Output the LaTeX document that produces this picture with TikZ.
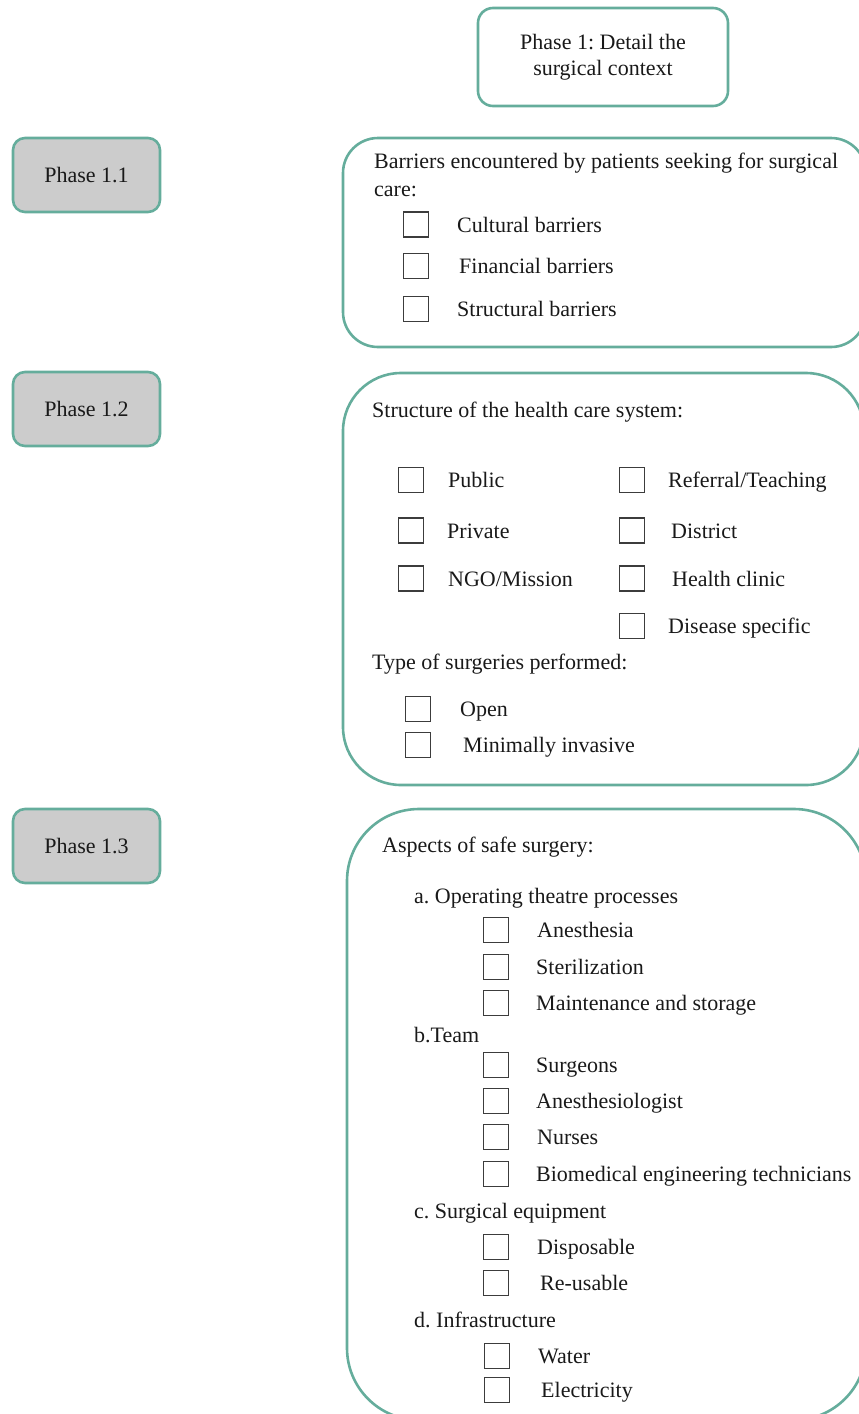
\documentclass[tikz,border=0pt]{standalone}
\usepackage{fontspec}
\setmainfont{Liberation Serif}
\definecolor{teal1}{RGB}{101,173,156}
\definecolor{grayfill}{RGB}{204,204,204}
\definecolor{boxline}{RGB}{60,60,60}
\newcommand\mkitem[5]{%
  \node[chk] (#1) at (#2,#3) {};
  \node[lbl] (#1t) at (#4,{#3+7.5}) {#5};}
\begin{document}
\frenchspacing
\begin{tikzpicture}[x=1pt,y=-1pt,
  every node/.style={font=\fontsize{22}{26.5}\selectfont\frenchspacing, text=black!90, inner sep=0pt},
  frame/.style={draw=teal1, line width=2.6pt},
  phasebox/.style={frame, fill=grayfill, rounded corners=12pt, minimum width=147pt, minimum height=74pt},
  chk/.style={draw=boxline, line width=1.4pt, minimum width=25pt, minimum height=25pt},
  lbl/.style={anchor=base west}]
\useasboundingbox (0,0) rectangle (859,1414);
\clip (0,0) rectangle (859,1414);

% title
\node[frame, rounded corners=15pt, minimum width=250pt, minimum height=98pt, align=center] (p1) at (603,57) {Phase 1: Detail the\\surgical context};

% phase labels
\node[phasebox] (p11) at (86.5,175) {Phase 1.1};
\node[phasebox] (p12) at (86.5,409) {Phase 1.2};
\node[phasebox] (p13) at (86.5,846) {Phase 1.3};

% big frames
\node[frame, rounded corners=35pt, minimum width=523pt, minimum height=209pt] (b11) at (604.5,242.5) {};
\node[frame, rounded corners=58pt, minimum width=521pt, minimum height=412pt] (b12) at (603.5,579) {};
\node[frame, rounded corners=72pt, minimum width=519pt, minimum height=611pt] (b13) at (606.5,1114.5) {};

% box 1.1
\node[lbl] (h11a) at (374,168) {Barriers encountered by patients seeking for surgical};
\node[lbl] (h11b) at (374,196) {care:};
\mkitem{c11a}{416}{224.5}{457}{Cultural barriers}
\mkitem{c11b}{416}{266}{459}{Financial barriers}
\mkitem{c11c}{416}{309}{457}{Structural barriers}

% box 1.2
\node[lbl] (h12a) at (372,417) {Structure of the health care system:};
\mkitem{c12a}{411}{480}{448}{Public}
\mkitem{c12b}{411}{530.5}{447}{Private}
\mkitem{c12c}{411}{578.5}{448}{NGO/Mission}
\mkitem{c12d}{632}{480}{668}{Referral/Teaching}
\mkitem{c12e}{632}{530.5}{671}{District}
\mkitem{c12f}{632}{578.5}{672}{Health clinic}
\mkitem{c12g}{632}{626}{668}{Disease specific}
\node[lbl] (h12b) at (372,669) {Type of surgeries performed:};
\mkitem{c12h}{418}{709}{460}{Open}
\mkitem{c12i}{418}{745}{463}{Minimally invasive}

% box 1.3
\node[lbl] (h13) at (382,852) {Aspects of safe surgery:};
\node[lbl] (h13a) at (414,903) {a. Operating theatre processes};
\mkitem{c13a}{496}{930}{537}{Anesthesia}
\mkitem{c13b}{496}{967}{536}{Sterilization}
\mkitem{c13c}{496}{1003}{536}{Maintenance and storage}
\node[lbl] (h13b) at (414,1042) {b.Team};
\mkitem{c13d}{496}{1065}{536}{Surgeons}
\mkitem{c13e}{496}{1101}{536}{Anesthesiologist}
\mkitem{c13f}{496}{1137}{537}{Nurses}
\mkitem{c13g}{496}{1174}{536}{Biomedical engineering technicians}
\node[lbl] (h13c) at (414,1218) {c. Surgical equipment};
\mkitem{c13h}{496}{1247}{537}{Disposable}
\mkitem{c13i}{496}{1283}{540}{Re-usable}
\node[lbl] (h13d) at (414,1327) {d. Infrastructure};
\mkitem{c13j}{497}{1356}{538}{Water}
\mkitem{c13k}{497}{1390}{541}{Electricity}
\end{tikzpicture}
\end{document}
